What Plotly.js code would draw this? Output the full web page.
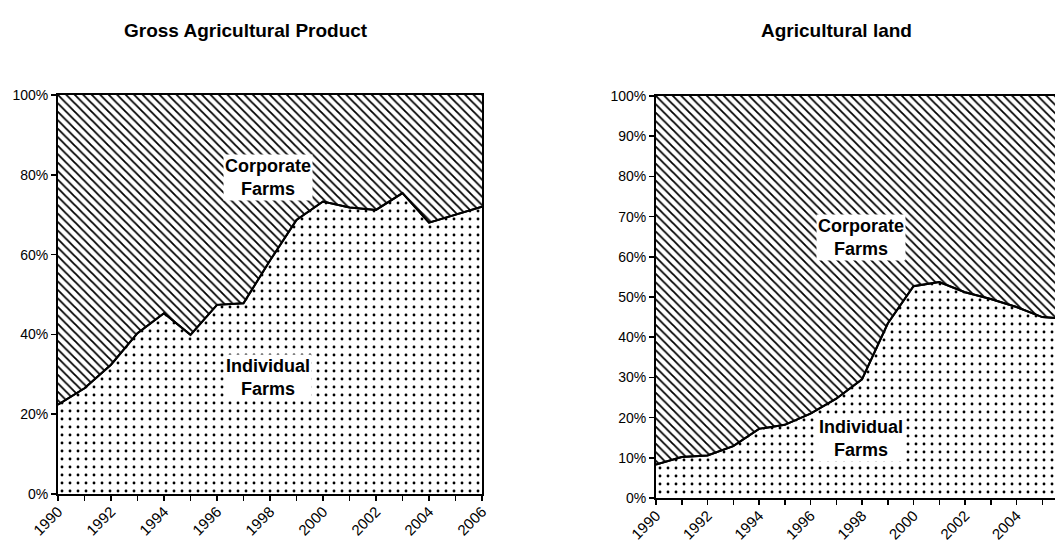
<!DOCTYPE html>
<html>
<head>
<meta charset="utf-8">
<script src="https://cdn.plot.ly/plotly-3.0.1.min.js"></script>
<style>
html, body { margin: 0; padding: 0; overflow: hidden; background: #fff; }
#chart { width: 1075px; height: 540px; }
</style>
</head>
<body>
<div id="chart"></div>
<script>
// ---- data ----
const years = [1990, 1991, 1992, 1993, 1994, 1995, 1996, 1997, 1998, 1999, 2000, 2001, 2002, 2003, 2004, 2005, 2006];
const yearLabels = ['1990', '', '1992', '', '1994', '', '1996', '', '1998', '', '2000', '', '2002', '', '2004', '', '2006'];

// Gross Agricultural Product, share (%)
const gapIndividual = [22.4, 26.5, 32.4, 40.3, 45.3, 39.9, 47.4, 47.8, 58.5, 68.7, 73.3, 71.8, 71.2, 75.4, 68.0, 70.0, 72.0];
const gapCorporate  = [77.6, 73.5, 67.6, 59.7, 54.7, 60.1, 52.6, 52.2, 41.5, 31.3, 26.7, 28.2, 28.8, 24.6, 32.0, 30.0, 28.0];

// Agricultural land, share (%)
const landIndividual = [8.3, 10.2, 10.6, 12.9, 17.2, 18.2, 21.0, 24.7, 29.5, 43.4, 52.7, 53.7, 51.2, 49.5, 47.5, 45.0, 44.5];
const landCorporate  = [91.7, 89.8, 89.4, 87.1, 82.8, 81.8, 79.0, 75.3, 70.5, 56.6, 47.3, 46.3, 48.8, 50.5, 52.5, 55.0, 55.5];

const leftTitle = 'Gross Agricultural Product';
const rightTitle = 'Agricultural land';
const corpLabel = 'Corporate<br>Farms';
const indLabel = 'Individual<br>Farms';

// ---- styles ----
const FONT = 'Liberation Sans, Arial, Helvetica, sans-serif';
const dotPattern = {shape: '.', fgcolor: '#000', bgcolor: '#fff', size: 8, solidity: 0.1, fillmode: 'replace'};
const hatchPattern = {shape: '\\', fgcolor: '#000', bgcolor: '#fff', size: 6, solidity: 0.3, fillmode: 'replace'};

function areaTraces(xa, ya, ind, corp, grp) {
  return [
    {x: years, y: ind, xaxis: xa, yaxis: ya, type: 'scatter', mode: 'lines', stackgroup: grp,
     line: {color: '#000', width: 2}, fillcolor: '#fff', fillpattern: dotPattern, hoverinfo: 'skip'},
    {x: years, y: corp, xaxis: xa, yaxis: ya, type: 'scatter', mode: 'lines', stackgroup: grp,
     line: {color: '#000', width: 0}, fillcolor: '#fff', fillpattern: hatchPattern, hoverinfo: 'skip'},
    {x: years, y: ind, xaxis: xa, yaxis: ya, type: 'scatter', mode: 'lines',
     line: {color: '#000', width: 2}, hoverinfo: 'skip'}
  ];
}

const data = [].concat(
  areaTraces('x', 'y', gapIndividual, gapCorporate, 'g1'),
  areaTraces('x2', 'y2', landIndividual, landCorporate, 'g2')
);

const W = 1075, H = 540;
function xaxisDef(domain, anchor) {
  return {
    domain: domain, anchor: anchor, range: [1990, 2006], tickmode: 'array', tickvals: years, ticktext: yearLabels,
    tickangle: -45, ticks: 'outside', ticklen: 5, tickwidth: 1.5, tickcolor: '#000', ticklabelstandoff: -4,
    showline: true, linecolor: '#000', linewidth: 2, mirror: true, showgrid: false, zeroline: false,
    tickfont: {family: FONT, size: 15, color: '#000'}, fixedrange: true
  };
}
function yaxisDef(domain, dtick, anchor) {
  return {
    domain: domain, range: [0, 100], dtick: dtick, ticksuffix: '%', anchor: anchor,
    ticks: 'outside', ticklen: 5, tickwidth: 1.5, tickcolor: '#000',
    showline: true, linecolor: '#000', linewidth: 2, mirror: true, showgrid: false, zeroline: false,
    tickfont: {family: FONT, size: 14, color: '#000'}, fixedrange: true
  };
}

const labelFont = {family: FONT, size: 18, color: '#000'};
function boxLabel(xref, yref, x, y, text) {
  return {xref: xref, yref: yref, x: x, y: y, text: '<b>' + text + '</b>', showarrow: false,
          font: labelFont, bgcolor: '#fff', borderpad: 1, align: 'center'};
}

const layout = {
  width: W, height: H,
  margin: {l: 0, r: 0, t: 0, b: 0},
  paper_bgcolor: '#fff', plot_bgcolor: '#fff',
  showlegend: false,
  font: {family: FONT, color: '#000'},
  xaxis: xaxisDef([58 / W, 482 / W], 'y'),
  yaxis: yaxisDef([(H - 494) / H, (H - 95) / H], 20, 'x'),
  xaxis2: xaxisDef([656 / W, 1068 / W], 'y2'),
  yaxis2: yaxisDef([(H - 498) / H, (H - 96) / H], 10, 'x2'),
  annotations: [
    {xref: 'paper', yref: 'paper', x: 246 / W, y: 1 - 30 / H, text: '<b>' + leftTitle + '</b>', showarrow: false,
     font: {family: FONT, size: 19, color: '#000'}, xanchor: 'center', yanchor: 'middle'},
    {xref: 'paper', yref: 'paper', x: 836 / W, y: 1 - 30 / H, text: '<b>' + rightTitle + '</b>', showarrow: false,
     font: {family: FONT, size: 19, color: '#000'}, xanchor: 'center', yanchor: 'middle'},
    boxLabel('x', 'y', 1997.92, 79.4, corpLabel),
    boxLabel('x', 'y', 1997.92, 29.3, indLabel),
    boxLabel('x2', 'y2', 1997.95, 64.9, corpLabel),
    boxLabel('x2', 'y2', 1997.95, 14.7, indLabel)
  ]
};

Plotly.newPlot('chart', data, layout, {staticPlot: true, displayModeBar: false});
</script>
</body>
</html>
